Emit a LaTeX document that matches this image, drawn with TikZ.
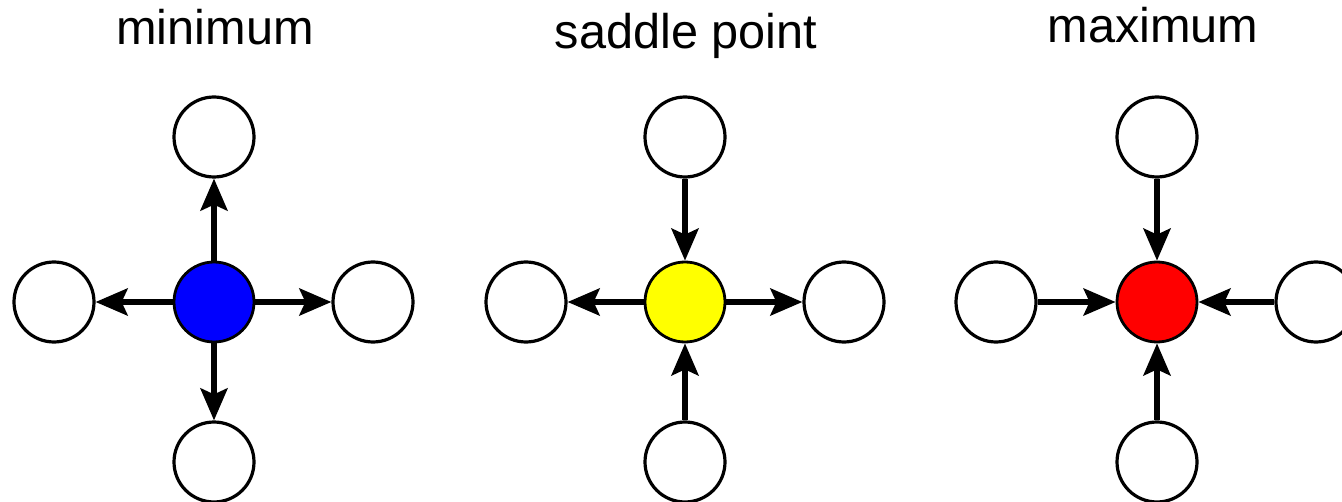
\documentclass[tikz,border=0pt]{standalone}
\usepackage{fontspec}
\setmainfont{Liberation Sans}
\usetikzlibrary{arrows.meta}
\begin{document}
\begin{tikzpicture}[x=0.75pt,y=-0.75pt,
  outer/.style={circle,draw=black,line width=3.2*0.75pt,fill=white,minimum size=80*0.75pt,inner sep=0pt},
  inner/.style={circle,draw=black,line width=2.8*0.75pt,minimum size=80*0.75pt,inner sep=0pt},
  arr/.style={line width=5.5*0.75pt,-{Stealth[length=32*0.75pt,width=27*0.75pt,inset=6*0.75pt]}},
  lbl/.style={anchor=base,font=\fontsize{36.5pt}{40pt}\selectfont,inner sep=0pt}]
\useasboundingbox (0,0) rectangle (1342,502);
% minimum
\node[lbl] (t1) at (215,45) {minimum};
\node[inner,fill={rgb,255:red,0;green,0;blue,255}] (c1) at (214,302) {};
\node[outer] (u1) at (214,137) {};
\node[outer] (d1) at (214,462) {};
\node[outer] (l1) at (54,302) {};
\node[outer] (r1) at (373,302) {};
\draw[arr] (c1) -- (u1);
\draw[arr] (c1) -- (d1);
\draw[arr] (c1) -- (l1);
\draw[arr] (c1) -- (r1);
% saddle point
\node[lbl] (t2) at (686,49) {saddle point};
\node[inner,fill={rgb,255:red,255;green,255;blue,0}] (c2) at (685,302) {};
\node[outer] (u2) at (685,137) {};
\node[outer] (d2) at (685,462) {};
\node[outer] (l2) at (526,302) {};
\node[outer] (r2) at (844,302) {};
\draw[arr] (u2) -- (c2);
\draw[arr] (d2) -- (c2);
\draw[arr] (c2) -- (l2);
\draw[arr] (c2) -- (r2);
% maximum
\node[lbl] (t3) at (1153,43) {maximum};
\node[inner,fill={rgb,255:red,255;green,0;blue,0}] (c3) at (1157,302) {};
\node[outer] (u3) at (1157,137) {};
\node[outer] (d3) at (1157,462) {};
\node[outer] (l3) at (996,302) {};
\node[outer] (r3) at (1316,302) {};
\draw[arr] (u3) -- (c3);
\draw[arr] (d3) -- (c3);
\draw[arr] (l3) -- (c3);
\draw[arr] (r3) -- (c3);
\end{tikzpicture}
\end{document}
